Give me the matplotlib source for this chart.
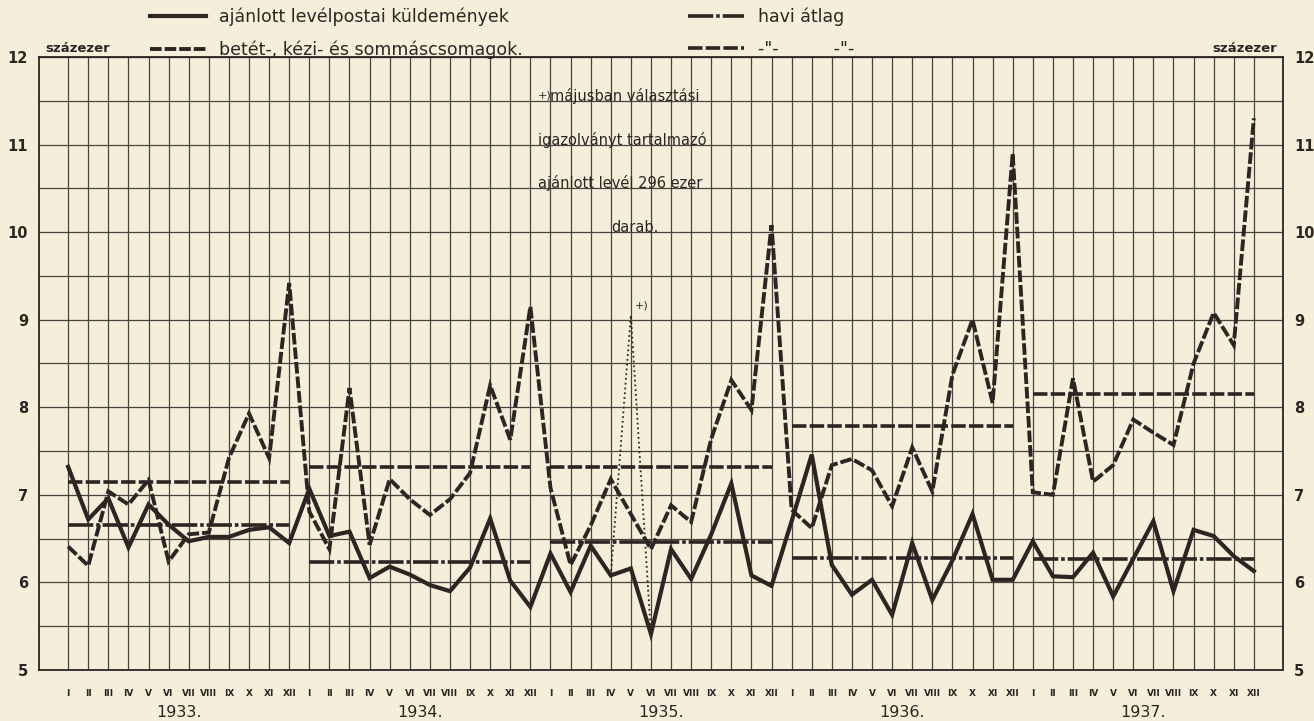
import numpy as np
import matplotlib
matplotlib.use('Agg')
import matplotlib.pyplot as plt
import matplotlib.transforms as mtransforms
from matplotlib.lines import Line2D

# értékek százezer darabban, havonta 1933-1937
evek = [1933, 1934, 1935, 1936, 1937]
honapok = ['I', 'II', 'III', 'IV', 'V', 'VI', 'VII', 'VIII', 'IX', 'X', 'XI', 'XII']

ajanlott = [
    7.32, 6.72, 6.96, 6.40, 6.89, 6.66, 6.47, 6.52, 6.52, 6.60, 6.63, 6.45,
    7.07, 6.53, 6.58, 6.05, 6.18, 6.09, 5.97, 5.90, 6.17, 6.73, 6.02, 5.72,
    6.33, 5.89, 6.42, 6.08, 6.16, 5.41, 6.38, 6.04, 6.55, 7.13, 6.08, 5.96,
    6.70, 7.46, 6.20, 5.86, 6.03, 5.63, 6.45, 5.80, 6.25, 6.78, 6.03, 6.03,
    6.47, 6.07, 6.06, 6.34, 5.84, 6.27, 6.70, 5.90, 6.60, 6.53, 6.30, 6.13,
]
csomagok = [
    6.41, 6.19, 7.04, 6.89, 7.17, 6.24, 6.55, 6.57, 7.42, 7.93, 7.42, 9.42,
    6.81, 6.38, 8.22, 6.43, 7.18, 6.95, 6.77, 6.95, 7.25, 8.25, 7.63, 9.15,
    7.08, 6.20, 6.65, 7.18, 6.78, 6.38, 6.88, 6.69, 7.64, 8.31, 7.97, 10.08,
    6.83, 6.62, 7.34, 7.41, 7.28, 6.87, 7.54, 7.04, 8.37, 9.00, 8.05, 10.90,
    7.03, 7.00, 8.33, 7.15, 7.34, 7.86, 7.71, 7.57, 8.50, 9.08, 8.71, 11.30,
]
ajanlott_atlag = [6.66, 6.23, 6.46, 6.28, 6.27]
csomagok_atlag = [7.15, 7.32, 7.32, 7.79, 8.15]

# 1935 május, választási igazolványokkal együtt
valasztasi_ho = 28
valasztasi_ertek = 9.05

ink = '#2b2622'
paper = '#f6eedb'
szaggatott = (0, (3.0, 0.75))

fig = plt.figure(figsize=(13.14, 7.21), dpi=100, facecolor=paper)
ax = fig.add_axes([39 / 1314, 51 / 721, 1244 / 1314, 613 / 721], facecolor=paper)

x = np.arange(len(ajanlott))
ax.set_xlim(-1.45, 60.45)
ax.set_ylim(5, 12)

# rács
ax.set_xticks(x)
ax.set_xticklabels(honapok * len(evek), fontsize=6.5, fontweight='bold', color=ink)
ax.set_yticks(np.arange(5, 13))
ax.set_yticklabels([str(v) for v in range(5, 13)], fontsize=10.5, fontweight='bold', color=ink)
ax.set_yticks(np.arange(5.5, 12, 1.0), minor=True)
ax.grid(True, which='both', color='#4a443e', lw=0.9)
ax.set_axisbelow(True)
ax.tick_params(axis='x', length=0, pad=14)
ax.tick_params(axis='y', which='both', length=0, pad=8, labelleft=True, labelright=True)
for s in ax.spines.values():
    s.set_color(ink)
    s.set_linewidth(1.3)

# adatsorok
l_ajanlott, = ax.plot(x, ajanlott, color=ink, lw=3.0, solid_joinstyle='miter')
l_csomag, = ax.plot(x, csomagok, color=ink, lw=2.8, ls=szaggatott,
                    dash_joinstyle='miter')
ax.plot([valasztasi_ho - 1, valasztasi_ho, valasztasi_ho + 1],
        [ajanlott[valasztasi_ho - 1], valasztasi_ertek, ajanlott[valasztasi_ho + 1]],
        color=ink, lw=1.3, ls=':')

# havi átlagok
for k in range(len(evek)):
    ax.hlines(ajanlott_atlag[k], k * 12, k * 12 + 11, color=ink, lw=2.6,
              linestyles=[(0, (7, 0.8, 1, 0.8))])
    ax.hlines(csomagok_atlag[k], k * 12, k * 12 + 11, color=ink, lw=2.6,
              linestyles=[(0, (4, 0.9))])

# évszámok
trans = mtransforms.blended_transform_factory(ax.transData, ax.transAxes)
for k, ev in enumerate(evek):
    ax.text(k * 12 + 5.5, -0.07, f'{ev}.', transform=trans, ha='center', va='center',
            fontsize=11.5, color=ink)

ax.text(0.005, 1.004, 'százezer', transform=ax.transAxes, ha='left', va='bottom',
        fontsize=9.5, fontweight='bold', color=ink)
ax.text(0.995, 1.004, 'százezer', transform=ax.transAxes, ha='right', va='bottom',
        fontsize=9.5, fontweight='bold', color=ink)

# megjegyzés
ax.text(23.35, 11.5, '+)', fontsize=8, color=ink, ha='left', va='bottom')
ax.text(24.0, 11.5, 'májusban választási', fontsize=10.5, color=ink, ha='left', va='baseline')
ax.text(23.4, 11.0, 'igazolványt tartalmazó', fontsize=10.5, color=ink, ha='left', va='baseline')
ax.text(23.4, 10.5, 'ajánlott levél 296 ezer', fontsize=10.5, color=ink, ha='left', va='baseline')
ax.text(28.2, 10.0, 'darab.', fontsize=10.5, color=ink, ha='center', va='baseline')
ax.text(valasztasi_ho + 0.2, valasztasi_ertek + 0.05, '+)', fontsize=8, color=ink,
        ha='left', va='bottom')

# jelmagyarázat
h1 = Line2D([], [], color=ink, lw=3.0)
h2 = Line2D([], [], color=ink, lw=2.8, ls=szaggatott)
h3 = Line2D([], [], color=ink, lw=2.6, ls=(0, (7, 0.8, 1, 0.8)))
h4 = Line2D([], [], color=ink, lw=2.6, ls=(0, (4, 0.9)))
fig.legend([h1, h2, h3, h4],
           ['ajánlott levélpostai küldemények', 'betét-, kézi- és sommáscsomagok.',
            'havi átlag', '-"-          -"-'],
           ncol=2, loc='upper left', bbox_to_anchor=(150 / 1314, 1 - 8 / 721),
           frameon=False, fontsize=12.5, handlelength=3.2, handletextpad=0.8,
           columnspacing=9.5, labelspacing=0.8, borderpad=0, borderaxespad=0,
           labelcolor=ink)

fig.savefig('out.png', dpi=100, facecolor=paper)
